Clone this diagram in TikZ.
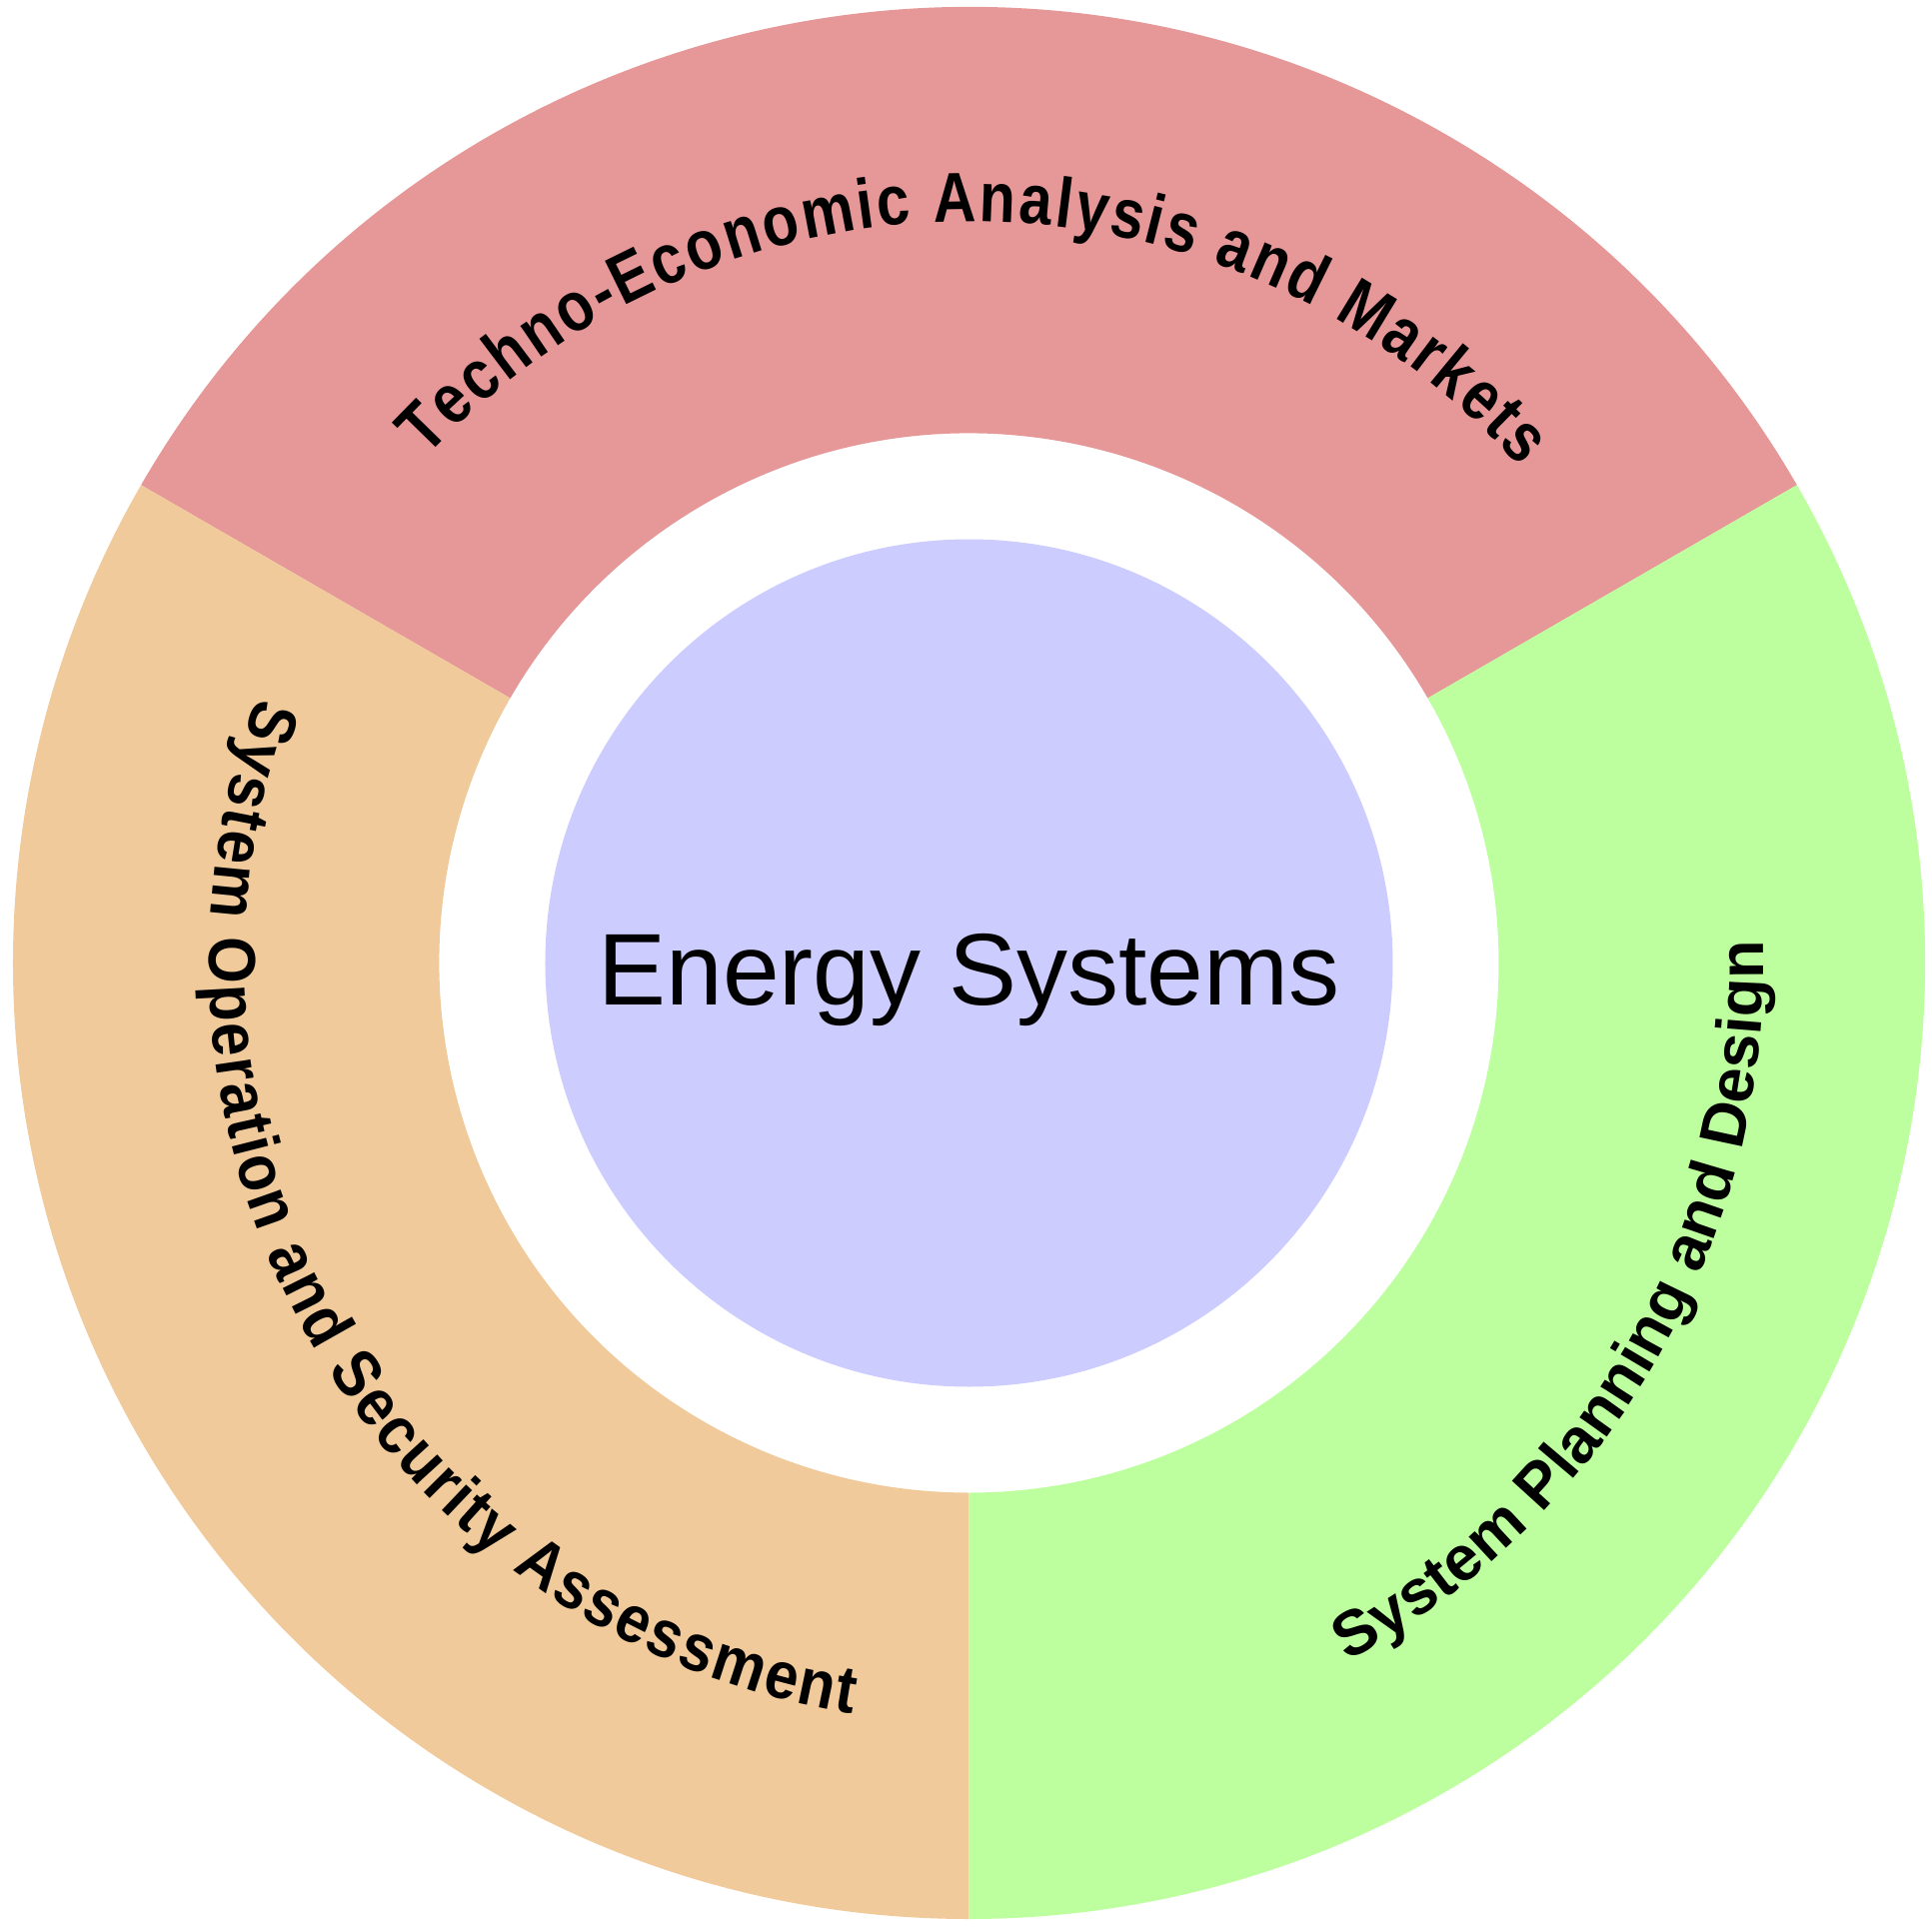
\documentclass[tikz,border=0pt]{standalone}
\usepackage{fontspec}
\setmainfont{Liberation Sans}
\newfontfamily\ringnarrow[FakeStretch=0.84]{Liberation Sans}
\newfontfamily\ringmid[FakeStretch=0.9]{Liberation Sans}
\newfontfamily\ringwide{Liberation Sans}
\usetikzlibrary{decorations.text}
\definecolor{esred}{HTML}{E69797}
\definecolor{esorange}{HTML}{F0CA9A}
\definecolor{esgreen}{HTML}{BDFF9F}
\definecolor{esblue}{HTML}{CCCCFF}
\newcommand{\marketlabel}{\ringnarrow\bfseries\fontsize{20}{22}\selectfont}
\newcommand{\operlabel}{\ringmid\bfseries\fontsize{19}{21}\selectfont}
\newcommand{\planlabel}{\ringwide\bfseries\fontsize{18}{20}\selectfont}

\begin{document}
\begin{tikzpicture}[
    ringtext/.style 2 args={decorate, decoration={text along path, text align={fit to path}, text={|#1|#2}}}]
  \useasboundingbox (-9.695,-9.695) rectangle (9.635,9.635);
  % ring sectors
  \fill[esred] (30:5.30) arc[start angle=30, end angle=150, radius=5.30] -- (150:9.565) arc[start angle=150, end angle=30, radius=9.565] -- cycle;
  \fill[esorange] (150:5.30) arc[start angle=150, end angle=270, radius=5.30] -- (270:9.565) arc[start angle=270, end angle=150, radius=9.565] -- cycle;
  \fill[esgreen] (270:5.30) arc[start angle=270, end angle=390, radius=5.30] -- (30:9.565) arc[start angle=390, end angle=270, radius=9.565] -- cycle;
  % centre
  \node[circle, fill=esblue, minimum size=8.48cm, inner sep=0pt] (core) at (0,0) {};
  \node[anchor=base, font=\fontsize{29}{31}\selectfont] (title) at ([yshift=-0.42cm]core.center) {Energy Systems};
  % labels along the ring
  \path[ringtext={\marketlabel}{Techno-Economic Analysis and Markets}] (137:7.42) arc[start angle=137, end angle=42, radius=7.42];
  \path[ringtext={\operlabel}{System Operation and Security Assessment}] (159.5:7.6) arc[start angle=159.5, end angle=261.2, radius=7.6];
  \path[ringtext={\planlabel}{System Planning and Design}] (-61.5:7.95) arc[start angle=-61.5, end angle=1.6, radius=7.95];
\end{tikzpicture}
\end{document}
